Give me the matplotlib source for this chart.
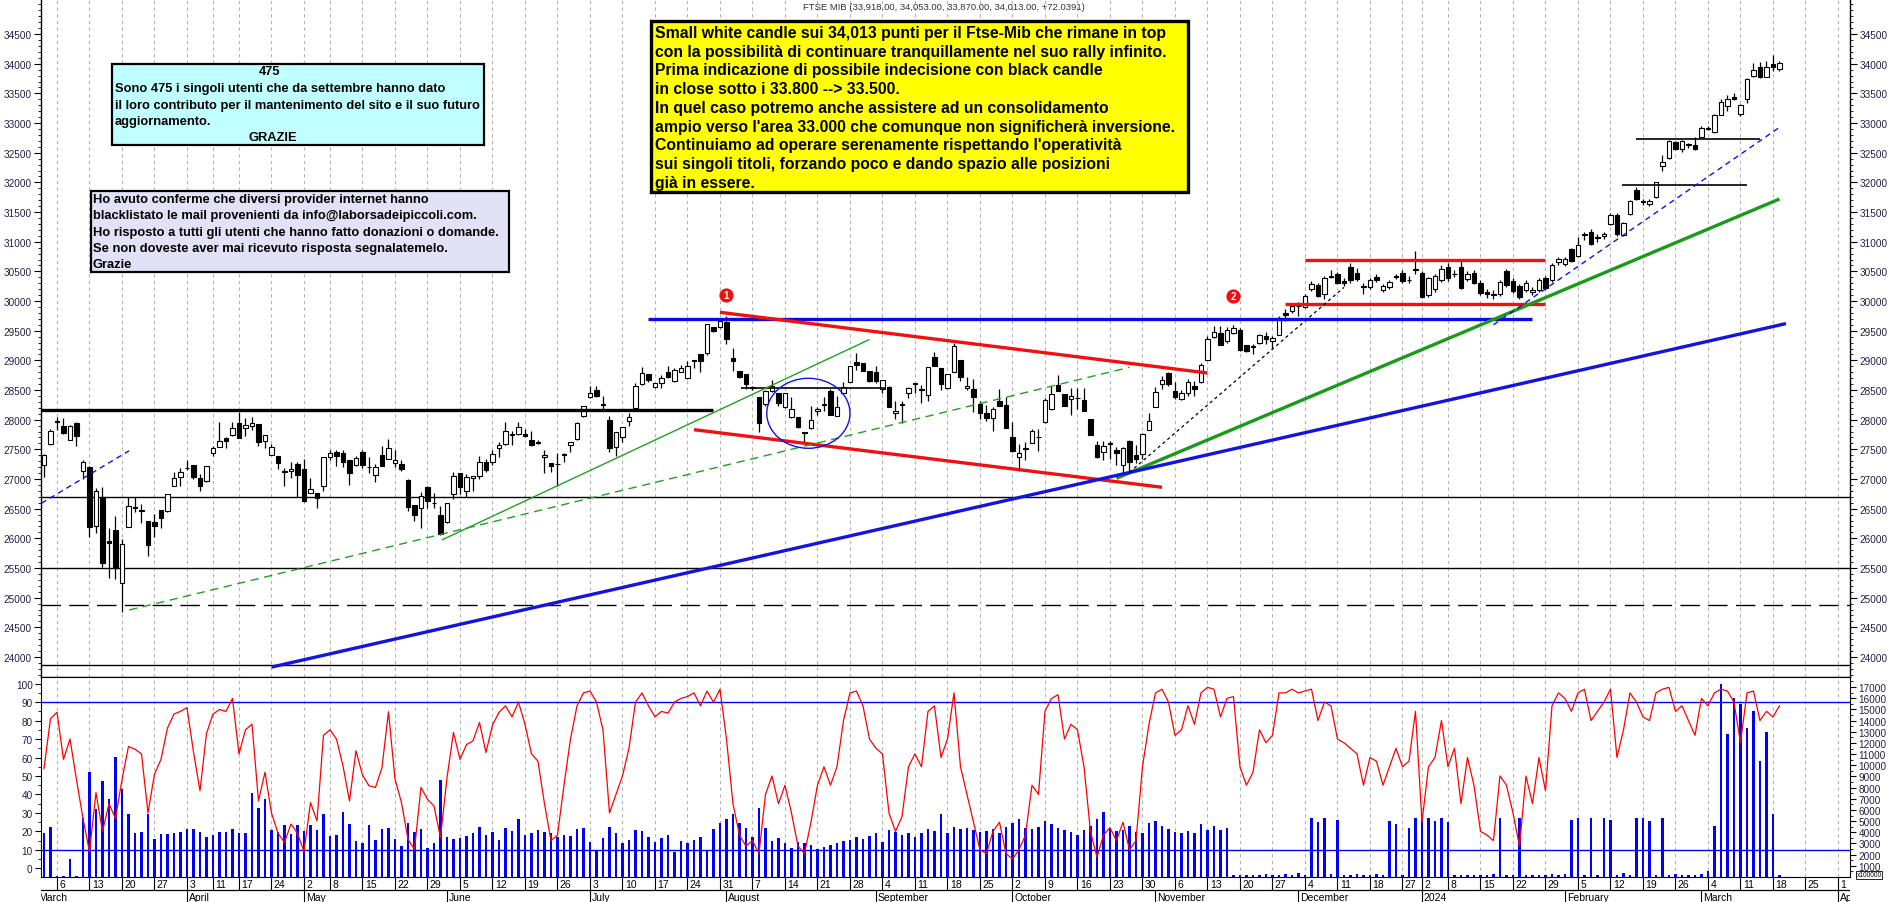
import numpy as np
import pandas as pd
import matplotlib
matplotlib.use("Agg")
import matplotlib.pyplot as plt
from matplotlib.patches import Rectangle, Ellipse

plt.rcParams['font.family'] = ['Liberation Sans', 'DejaVu Sans']

W, H = 1890, 903

# daily FTSE MIB candles, 2 Mar 2023 .. 19 Mar 2024
opens = [
    27236, 27590, 27960, 27888, 27663, 27938, 27140, 27197, 26213, 26691,
    25961, 26140, 25242, 26185, 26522, 26455, 26298, 26270, 26478, 26455,
    26888, 27028, 27180, 27236, 27017, 26961, 27433, 27534, 27691, 27747,
    27944, 27854, 27888, 27927, 27635, 27410, 27393, 27124, 27129, 27253,
    27169, 26764, 26758, 26876, 27365, 27461, 27438, 27320, 27242, 27449,
    27197, 27067, 27404, 27337, 27264, 27253, 26989, 26562, 26511, 26860,
    26590, 26393, 26270, 26747, 27095, 26792, 27011, 27056, 27281, 27281,
    27517, 27590, 27742, 27758, 27758, 27657, 27618, 27376, 27270, 27260,
    27410, 27573, 27674, 28067, 28376, 28500, 28253, 27994, 27534, 27713,
    27972, 28197, 28601, 28770, 28545, 28612, 28798, 28646, 28809, 28697,
    28994, 29107, 29118, 29556, 29562, 29651, 29033, 28826, 28770, 28534,
    28388, 28264, 28477, 28444, 28208, 28051, 28039, 27790, 27854, 28152,
    28247, 28478, 28056, 28449, 28640, 28966, 28949, 28815, 28798, 28517,
    28556, 28107, 28247, 28449, 28601, 28500, 28416, 29051, 28865, 28528,
    28798, 29006, 28528, 28517, 28264, 28107, 28022, 28320, 28247, 27702,
    27365, 27506, 27607, 27702, 27955, 28180, 28584, 28433, 28348, 28360,
    28337, 28011, 27573, 27449, 27590, 27489, 27242, 27635, 27404, 27421,
    27831, 28208, 28601, 28781, 28477, 28348, 28444, 28573, 28629, 29011,
    29388, 29455, 29320, 29455, 29511, 29258, 29230, 29286, 29416, 29331,
    29432, 29798, 29837, 29910, 29905, 30199, 30266, 30125, 30430, 30464,
    30330, 30582, 30481, 30250, 30238, 30413, 30187, 30238, 30420, 30481,
    30360, 30530, 30481, 30103, 30199, 30351, 30582, 30460, 30582, 30368,
    30481, 30311, 30150, 30110, 30114, 30498, 30340, 30249, 30182, 30159,
    30182, 30380, 30351, 30650, 30622, 30875, 30763, 31120, 31169, 31070,
    31100, 31300, 31451, 31112, 31468, 31874, 31690, 31637, 31750, 32274,
    32415, 32680, 32567, 32640, 32624, 32765, 32922, 32849, 33143, 33284,
    33442, 33160, 33413, 33791, 33938, 33780, 33994, 33918]
highs = [
    27421, 27843, 28039, 28022, 27910, 27955, 27320, 27214, 26843, 26860,
    26168, 26370, 25989, 26691, 26691, 26578, 26298, 26410, 26478, 26747,
    27124, 27180, 27326, 27236, 27084, 27213, 27562, 27966, 27702, 27955,
    28135, 28022, 28039, 27927, 27747, 27590, 27393, 27180, 27292, 27281,
    27337, 27011, 26758, 27365, 27489, 27489, 27489, 27320, 27393, 27489,
    27365, 27253, 27562, 27674, 27489, 27320, 27000, 26562, 26775, 26876,
    26764, 26550, 26590, 27112, 27095, 27084, 27045, 27382, 27337, 27489,
    27629, 27966, 27815, 27966, 27843, 27815, 27660, 27483, 27270, 27438,
    27438, 27629, 27955, 28225, 28562, 28562, 28393, 28067, 27787, 27871,
    28112, 28612, 28882, 28770, 28612, 28747, 28910, 28865, 28921, 28994,
    28994, 29107, 29612, 29556, 29697, 29753, 29202, 28826, 28770, 28570,
    28388, 28500, 28674, 28444, 28449, 28387, 28039, 27800, 28236, 28208,
    28376, 28517, 28404, 28629, 28910, 29118, 28949, 28815, 28910, 28669,
    28573, 28320, 28320, 28545, 28601, 28584, 28882, 29135, 28865, 28770,
    29292, 29006, 28713, 28685, 28320, 28247, 28208, 28517, 28388, 27955,
    27590, 27618, 27843, 27843, 28360, 28573, 28753, 28433, 28528, 28528,
    28528, 28011, 27646, 27646, 27646, 27534, 27534, 27663, 27573, 27775,
    28112, 28545, 28742, 28798, 28640, 28500, 28685, 28657, 28949, 29405,
    29573, 29573, 29567, 29595, 29539, 29258, 29270, 29443, 29483, 29405,
    29753, 29865, 29960, 29977, 30118, 30330, 30300, 30420, 30520, 30490,
    30390, 30640, 30560, 30300, 30380, 30450, 30290, 30360, 30460, 30520,
    30420, 30847, 30500, 30400, 30460, 30600, 30640, 30520, 30706, 30500,
    30520, 30360, 30200, 30180, 30360, 30540, 30380, 30280, 30360, 30230,
    30390, 30420, 30640, 30740, 30750, 30900, 31080, 31160, 31220, 31130,
    31160, 31480, 31480, 31330, 31700, 31920, 31720, 31720, 32010, 32460,
    32710, 32700, 32720, 32660, 32760, 32945, 32950, 33160, 33400, 33470,
    33500, 33320, 33760, 34010, 34030, 34040, 34150, 34053]
lows = [
    27039, 27573, 27831, 27758, 27663, 27562, 27000, 26017, 26090, 25511,
    25326, 25315, 24764, 26185, 26450, 26258, 25708, 26017, 26180, 26440,
    26876, 26890, 27160, 27000, 26790, 26950, 27388, 27534, 27517, 27719,
    27691, 27730, 27831, 27562, 27517, 27410, 27169, 26876, 27011, 26691,
    26618, 26764, 26506, 26803, 27326, 27219, 27197, 26899, 27214, 27180,
    27101, 26955, 27225, 27337, 27208, 27140, 26466, 26298, 26174, 26506,
    26511, 26056, 26258, 26663, 26747, 26691, 26792, 27000, 27124, 27236,
    27365, 27579, 27573, 27747, 27700, 27560, 27590, 27095, 27112, 26888,
    27281, 27449, 27660, 28050, 28365, 28380, 28169, 27449, 27393, 27618,
    27899, 28180, 28590, 28640, 28530, 28530, 28700, 28629, 28800, 28686,
    28865, 28798, 29090, 29472, 29550, 29275, 28826, 28697, 28517, 28500,
    27787, 28236, 28470, 28236, 28200, 28028, 27860, 27590, 27840, 28084,
    28152, 28084, 28056, 28449, 28630, 28843, 28826, 28640, 28618, 28449,
    28219, 28017, 27944, 28365, 28449, 28275, 28320, 28910, 28506, 28520,
    28798, 28657, 28500, 28135, 28011, 27983, 27815, 28236, 27854, 27450,
    27140, 27320, 27600, 27478, 27940, 28170, 28480, 28236, 28073, 28180,
    28152, 27742, 27348, 27320, 27331, 27236, 27084, 27112, 27270, 27337,
    27820, 28208, 28517, 28573, 28348, 28340, 28404, 28404, 28620, 29000,
    29380, 29264, 29300, 29440, 29163, 29135, 29107, 29280, 29275, 29208,
    29420, 29668, 29798, 29753, 29880, 30170, 30060, 30040, 30380, 30280,
    30260, 30300, 30330, 30120, 30200, 30320, 30150, 30200, 30370, 30300,
    30300, 30450, 30050, 30060, 30160, 30320, 30340, 30400, 30200, 30330,
    30280, 30100, 30050, 30040, 30080, 30240, 30130, 30030, 30150, 30100,
    30150, 30180, 30320, 30600, 30590, 30650, 30740, 31030, 30940, 30990,
    31050, 31280, 31100, 31090, 31450, 31700, 31620, 31600, 31740, 32190,
    32400, 32550, 32510, 32580, 32550, 32750, 32880, 32830, 33130, 33210,
    33390, 33120, 33340, 33780, 33760, 33770, 33880, 33870]
closes = [
    27404, 27815, 27970, 27770, 27899, 27719, 27281, 26185, 26803, 25579,
    25916, 25494, 25904, 26550, 26506, 26483, 25893, 26213, 26337, 26747,
    27022, 27124, 27185, 27028, 26876, 27213, 27517, 27635, 27635, 27860,
    27691, 27910, 27944, 27629, 27747, 27534, 27264, 27124, 27169, 27073,
    26635, 26831, 26674, 27365, 27433, 27393, 27281, 27101, 27348, 27242,
    27197, 27197, 27225, 27517, 27320, 27169, 26534, 26399, 26719, 26624,
    26590, 26073, 26590, 27056, 26860, 27039, 27045, 27281, 27157, 27421,
    27573, 27815, 27742, 27871, 27730, 27579, 27601, 27410, 27225, 27247,
    27421, 27629, 27944, 28225, 28444, 28393, 28253, 27517, 27787, 27871,
    28050, 28573, 28781, 28669, 28612, 28708, 28713, 28837, 28865, 28910,
    28994, 28994, 29612, 29500, 29668, 29359, 28989, 28713, 28601, 28534,
    27938, 28488, 28573, 28275, 28444, 28180, 27882, 27780, 27994, 28180,
    28247, 28084, 28208, 28545, 28899, 28927, 28826, 28657, 28657, 28669,
    28219, 28152, 28247, 28528, 28601, 28500, 28882, 28910, 28601, 28770,
    29236, 28713, 28573, 28388, 28107, 28022, 28180, 28236, 27854, 27478,
    27433, 27522, 27815, 27702, 28331, 28433, 28489, 28236, 28393, 28360,
    28152, 27742, 27365, 27562, 27590, 27433, 27517, 27292, 27337, 27758,
    27983, 28472, 28669, 28601, 28388, 28444, 28640, 28517, 28927, 29360,
    29472, 29264, 29511, 29539, 29174, 29163, 29230, 29432, 29360, 29376,
    29713, 29764, 29921, 29921, 30090, 30295, 30086, 30385, 30413, 30311,
    30311, 30351, 30368, 30238, 30351, 30351, 30255, 30323, 30402, 30340,
    30351, 30520, 30075, 30380, 30419, 30548, 30385, 30450, 30227, 30453,
    30311, 30131, 30120, 30100, 30329, 30272, 30170, 30069, 30311, 30182,
    30351, 30216, 30605, 30706, 30706, 30678, 30943, 31110, 30960, 31060,
    31130, 31451, 31130, 31310, 31682, 31721, 31670, 31693, 32003, 32342,
    32697, 32567, 32697, 32625, 32567, 32917, 32906, 33143, 33357, 33408,
    33408, 33300, 33746, 33893, 33769, 33938, 33941, 34013]

# lower panel: oscillator (0-100, left scale) and volume (x100000, right scale)
osc = [
    54, 81, 84.5, 59, 70, 48, 27, 9, 41, 20, 35, 27, 48, 66, 64.5, 62, 30,
    51, 59, 76, 83.5, 85, 87, 63, 42, 73, 83.5, 86, 85, 92, 62, 75, 78, 36.5,
    52, 30, 19, 14, 24, 19, 9, 35.6, 25.7, 72, 75, 70, 55.5, 36.5, 63.7, 50.5,
    44.7, 43.8, 54.6, 84.8, 48.3, 35.6, 15.7, 10.3, 43.8, 37.4, 33.8, 16.6,
    49, 73.6, 59, 67, 69, 79, 62.7, 77.6, 84.4,
    88, 82, 90, 78, 62, 58, 35, 15, 18, 45, 70, 88, 95, 96, 90, 75, 30, 40,
    50, 65, 90, 95, 88, 82, 85, 84, 90, 92, 93, 95, 88, 96, 90, 97, 70, 35,
    18, 12, 15, 8, 40, 50, 35, 45, 30, 12, 8, 25, 45, 55, 45, 55, 80, 95,
    96, 88, 70, 65, 62, 30, 20, 28, 55, 62, 55, 85, 88, 60, 70, 95, 55, 40,
    25, 10, 8, 20, 25, 8, 5, 10, 18, 45, 40, 85, 92, 94, 70, 78, 75, 55, 20,
    6, 18, 22, 15, 25, 10, 15, 55, 78, 95, 97, 90, 72, 75, 88, 78, 95, 98,
    97, 82, 92, 93, 55, 45, 52, 75, 68, 72, 95, 95, 97, 95, 96, 97, 80, 90,
    88, 70, 68, 65, 62, 45, 60, 58, 45, 55, 65, 55, 58, 85, 25, 55, 60, 80,
    55, 65, 35, 60, 45, 20, 18, 15, 50, 45, 30, 12, 50, 35, 60, 42, 88, 95,
    92, 85, 95, 97, 80, 85, 90, 97, 60, 75, 95, 90, 82, 80, 95, 97, 98, 85,
    88, 80, 72, 92, 88, 95, 97, 96, 90, 68, 95, 96, 80, 85, 82, 88]
volume = [
    3913, 4480, 90, 60, 1583, 90, 5257, 9409, 6123, 8603, 6960, 10753,
    7916, 5616, 3913, 4062, 5616, 3375, 3823, 3883, 3913, 4032, 4331, 4331,
    4032, 3584, 3734, 4032, 4032, 4271, 3973, 3973, 7557, 6153, 7019, 4182,
    4032, 4660, 3823, 4630, 4122, 4660, 4182, 5616, 3674, 3734, 5855, 4719,
    3226, 3077, 4630, 3286, 4271, 4361, 3435, 2778, 4869, 4032, 4331, 2569,
    3077, 8662, 3584, 3435, 3525, 3674, 3913, 4480, 3734, 4032, 3316,
    4400, 4100, 5200, 3800, 3900, 4200, 4000, 3900, 3600,
    3800, 3700, 4300, 4400, 3100, 2400, 3500, 4500, 3900, 3000,
    3300, 4200, 4100, 3600, 3100, 3500, 3800, 2200, 3200, 3000,
    3300, 3600, 2400, 4300, 4800, 5200, 5600, 4800, 4400, 3600,
    6200, 4400, 3200, 3500, 3000, 2600, 3100, 3000, 2900, 2500,
    2700, 2900, 3000, 3200, 3300, 3600, 3400, 3700, 3900, 3100,
    4200, 4000, 3800, 3900, 3600, 3900, 4300, 4100, 5600, 3900,
    4500, 4300, 4400, 4200, 4000, 4100, 4300, 3900, 4500, 4800,
    5200, 4400, 4300, 4500, 5000, 4700, 4400, 4200, 4000, 3800,
    4200, 4600, 5200, 5800, 4300, 4100, 4200, 4600, 4000, 3900,
    4800, 5000, 4600, 4300, 4000, 3900, 4100, 3900, 4700, 4200,
    4600, 4200, 4400,
    200, 150, 180, 220, 150, 250, 170, 200, 240, 160, 330, 180,
    5300, 4900, 5300, 250, 5100, 200, 180, 230, 160, 200, 250, 180,
    5000, 4700, 200, 4400, 5300, 5200, 5300, 5000, 5300, 4900, 200, 180,
    220, 160, 200, 170, 250, 5300, 180, 200, 5300, 220, 160, 200,
    180, 230, 150, 300, 5100, 5300, 200, 5300, 220, 5300, 5100, 200,
    350, 180, 5300, 5300, 5000, 200, 5300, 180, 300, 220, 160, 200,
    250, 500, 4600, 17290, 12770, 16000, 15460, 13300, 14900, 10380, 13000,
    5640, 150]

holidays = pd.to_datetime(['2023-04-07', '2023-04-10', '2023-05-01',
                           '2023-12-25', '2023-12-26', '2024-01-01'])
cal = pd.bdate_range('2023-03-02', '2024-04-05')
cal = cal[~cal.isin(holidays)]

# drawings on the chart: (session0, price0, session1, price1)
hlines_full = [26700, 25500, 23860]
dashed_level = 24880
black_thick = (-0.5, 28170, 103, 28170)
black_short = [(107.2, 28530, 129.4, 28530), (245, 32737, 264, 32737),
               (242.8, 31958, 262, 31958)]
blue_level = (93, 29690, 229, 29690)
red_lines = [(104, 29810, 179, 28787), (100, 27832, 172, 26861),
             (194, 30700, 231, 30700), (191, 29950, 231, 29950)]
green_thick = (165, 27012, 267, 31720)
blue_thick = (35, 23830, 268, 29620)
green_thin = (61.2, 25972, 127, 29352)
green_dashed = (13.1, 24792, 167, 28883)
blue_dashed = [(-0.4, 26591, 13.1, 27477), (223, 29600, 267.3, 32950)]
black_dotted = (167, 27113, 200, 30230)
circle = (117.6, 28108, 12.8, 1180)
markers = [(105, 30110, '1'), (183, 30080, '2')]

title = 'FTSE MIB (33,918.00, 34,053.00, 33,870.00, 34,013.00, +72.0391)'
yellow_lines = [
    "Small white candle sui 34,013 punti per il Ftse-Mib che rimane in top",
    "con la possibilità di continuare tranquillamente nel suo rally infinito.",
    "Prima indicazione di possibile indecisione con black candle",
    "in close sotto i 33.800 --> 33.500.",
    "In quel caso potremo anche assistere ad un consolidamento",
    "ampio verso l'area 33.000 che comunque non significherà inversione.",
    "Continuiamo ad operare serenamente rispettando l'operatività",
    "sui singoli titoli, forzando poco e dando spazio alle posizioni",
    "già in essere.",
]
cyan_lines = [
    "Sono 475 i singoli utenti che da settembre hanno dato",
    "il loro contributo per il mantenimento del sito e il suo futuro",
    "aggiornamento.",
]
lavender_lines = [
    "Ho avuto conferme che diversi provider internet hanno",
    "blacklistato le mail provenienti da info@laborsadeipiccoli.com.",
    "Ho risposto a tutti gli utenti che hanno fatto donazioni o domande.",
    "Se non doveste aver mai ricevuto risposta segnalatemelo.",
    "Grazie",
]


def fx(px):
    return px / W


def fy(py):
    return 1 - py / H


fig = plt.figure(figsize=(W / 100, H / 100), dpi=100)
L, R = 41, 1850
X0, X1 = -0.46, 277.85
ax = fig.add_axes([fx(L), fy(678), fx(R) - fx(L), fy(0) - fy(678)])
axv = fig.add_axes([fx(L), fy(878), fx(R) - fx(L), fy(678) - fy(878)])
axo = axv.twinx()
axd = fig.add_axes([fx(L), 0, fx(R) - fx(L), fy(878)])

n = len(closes)
x = np.arange(n)
o, h, l, c = (np.array(v, dtype=float) for v in (opens, highs, lows, closes))
up = c >= o

week_idx = [i for i in range(1, len(cal))
            if cal[i].isocalendar()[1] != cal[i - 1].isocalendar()[1]]
month_idx = [0] + [i for i in range(1, len(cal)) if cal[i].month != cal[i - 1].month]

tick_col = '#222244'

# ---- main panel
ax.set_xlim(X0, X1)
ax.set_ylim(23663, 35091)
for i in week_idx:
    ax.axvline(i, color='#b4b4b4', lw=0.8, ls=(0, (3, 3)), zorder=0)
    axv.axvline(i, color='#b4b4b4', lw=0.8, ls=(0, (3, 3)), zorder=0)

ax.vlines(x, l, h, color='black', lw=0.9, zorder=3)
body_lo = np.minimum(o, c)
body_h = np.maximum(np.abs(c - o), 12)
ax.bar(x[up], body_h[up], bottom=body_lo[up], width=0.72, facecolor='white',
       edgecolor='black', lw=0.8, zorder=4)
ax.bar(x[~up], body_h[~up], bottom=body_lo[~up], width=0.72, facecolor='black',
       edgecolor='black', lw=0.8, zorder=4)

for lev in hlines_full:
    ax.axhline(lev, color='black', lw=1.0, zorder=2)
ax.axhline(dashed_level, color='black', lw=1.0, ls=(0, (14, 6)), zorder=2)


def seg(s, **kw):
    ax.plot([s[0], s[2]], [s[1], s[3]], solid_capstyle='butt', zorder=5, **kw)


seg(black_thick, color='black', lw=2.4)
for s in black_short:
    seg(s, color='black', lw=1.2)
seg(blue_level, color='#0a0ae6', lw=2.4)
for s in red_lines:
    seg(s, color='#f01010', lw=2.4)
seg(green_thick, color='#1a9a1a', lw=2.4)
seg(blue_thick, color='#1414e0', lw=2.4)
seg(green_thin, color='#22a022', lw=1.0)
seg(green_dashed, color='#22a022', lw=1.0, ls=(0, (6, 4)))
for s in blue_dashed:
    seg(s, color='#1010f0', lw=1.0, ls=(0, (4, 3)))
seg(black_dotted, color='black', lw=0.9, ls=(0, (2.5, 2.5)))
ax.add_patch(Ellipse(circle[:2], circle[2], circle[3], fill=False,
                     edgecolor='#1010f0', lw=1.0, zorder=5))
for mx, my, lab in markers:
    ax.scatter([mx], [my], s=105, color='#ee1111', zorder=6, linewidths=0)
    ax.text(mx, my, lab, color='white', fontsize=7, fontweight='bold',
            ha='center', va='center', zorder=7)

ax.set_xticks([])
ax.set_yticks(np.arange(24000, 35000, 500))
ax.set_yticks(np.arange(23700, 35100, 100), minor=True)
ax.tick_params(axis='y', which='both', left=True, right=True, labelleft=True,
               labelright=True, labelsize=7.2, labelcolor=tick_col,
               direction='out', pad=2)
ax.tick_params(axis='y', which='major', length=5, width=0.8)
ax.tick_params(axis='y', which='minor', length=2.5, width=0.6)
ax.spines['top'].set_visible(False)
for sp in ('left', 'right', 'bottom'):
    ax.spines[sp].set_linewidth(1.0)

# ---- lower panel: volume (right scale) and oscillator (left scale)
axv.set_xlim(X0, X1)
axv.set_ylim(0, 17900)
axv.bar(np.arange(len(volume)), volume, width=0.33, color='#0000ff', zorder=2)
axv.yaxis.tick_right()
axv.set_yticks(np.arange(1000, 17001, 1000))
axv.set_yticks(np.arange(500, 17900, 500), minor=True)
axv.set_xticks([])
axv.tick_params(axis='y', which='both', labelsize=7.2, labelcolor=tick_col,
                direction='out', pad=2)
axv.tick_params(axis='y', which='major', length=4)
axv.tick_params(axis='y', which='minor', length=2)

axo.set_xlim(X0, X1)
axo.set_ylim(-4.7, 103.6)
axo.yaxis.tick_left()
axo.set_yticks(np.arange(0, 101, 10))
axo.set_yticks(np.arange(5, 101, 10), minor=True)
axo.tick_params(axis='y', which='both', labelsize=7.2, labelcolor=tick_col,
                direction='out', pad=2)
axo.tick_params(axis='y', which='major', length=4)
axo.tick_params(axis='y', which='minor', length=2)
axo.axhline(90, color='#0000ff', lw=1.0)
axo.axhline(10, color='#0000ff', lw=1.0)
axo.plot(np.arange(len(osc)), osc, color='#ff0000', lw=0.9, zorder=4)
for sp in axo.spines.values():
    sp.set_visible(False)

fig.text(fx(1869), fy(876), 'x100000', fontsize=4.8, ha='center', va='center',
         bbox=dict(boxstyle='square,pad=0.12', fc='white', ec='black', lw=0.6))

# ---- date strip
axd.set_xlim(X0, X1)
axd.set_ylim(0, 25)
axd.axis('off')
axd.axhline(12, color='black', lw=0.9)
axd.vlines(week_idx, 12, 25, color='black', lw=0.8)
for i in week_idx:
    axd.text(i + 0.35, 18.3, str(cal[i].day), fontsize=7.5, ha='left',
             va='center', clip_on=True)
axd.vlines(month_idx[1:], 0, 12, color='black', lw=0.8)
for k, i in enumerate(month_idx):
    d = cal[i]
    name = str(d.year) if d.month == 1 else d.strftime('%B')
    xpos = i + 0.3 if k > 0 else X0 - 0.45
    axd.text(xpos, 5.2, name, fontsize=7.5, ha='left', va='center', clip_on=True)

# ---- texts
fig.text(fx(944), fy(7), title, fontsize=6.8, ha='center', va='center',
         color='#333333')

fig.add_artist(Rectangle((fx(651), fy(193)), fx(1188) - fx(651), fy(22) - fy(193),
                         transform=fig.transFigure, facecolor='#ffff00',
                         edgecolor='black', lw=2.4, zorder=10))
for k, line in enumerate(yellow_lines):
    fig.text(fx(655), fy(33.3 + 18.75 * k), line, fontsize=11.3,
             fontweight='bold', ha='left', va='center', zorder=11)

fig.add_artist(Rectangle((fx(112), fy(146)), fx(484) - fx(112), fy(65) - fy(146),
                         transform=fig.transFigure, facecolor='#c0ffff',
                         edgecolor='black', lw=1.6, zorder=10))
fig.text(fx(270), fy(72), '475', fontsize=9.3, fontweight='bold', ha='center',
         va='center', zorder=11)
for k, line in enumerate(cyan_lines):
    fig.text(fx(115), fy(89 + 16.5 * k), line, fontsize=9.3, fontweight='bold',
             ha='left', va='center', zorder=11)
fig.text(fx(273), fy(138), 'GRAZIE', fontsize=9.3, fontweight='bold',
         ha='center', va='center', zorder=11)

fig.add_artist(Rectangle((fx(91), fy(273)), fx(509) - fx(91), fy(192) - fy(273),
                         transform=fig.transFigure, facecolor='#e2e2f6',
                         edgecolor='black', lw=1.6, zorder=10))
for k, line in enumerate(lavender_lines):
    fig.text(fx(93), fy(200 + 16.3 * k), line, fontsize=9.3, fontweight='bold',
             ha='left', va='center', zorder=11)

fig.savefig('out.png', dpi=100, facecolor='white')
